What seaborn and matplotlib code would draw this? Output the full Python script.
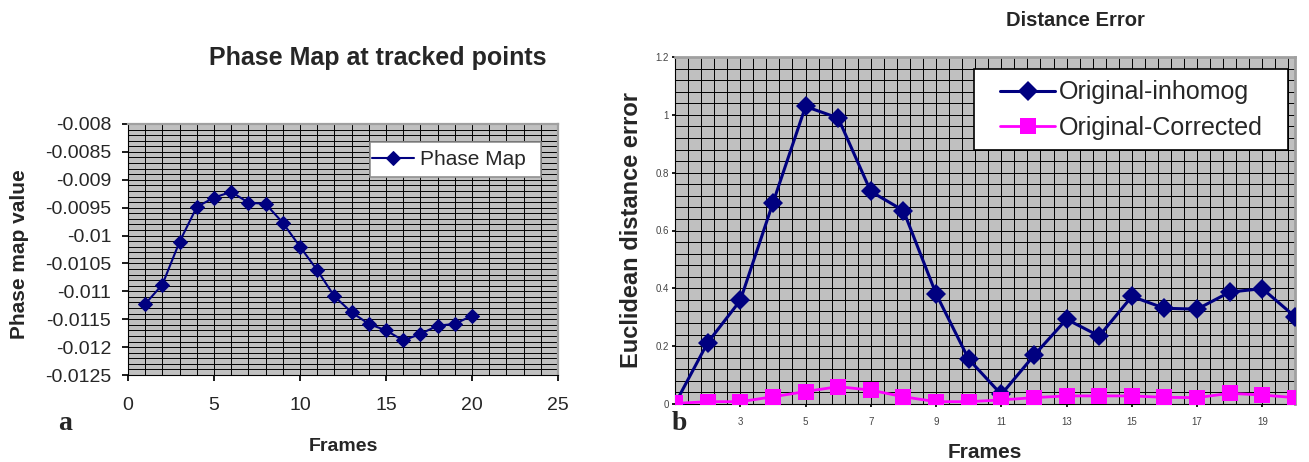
import numpy as np
import pandas as pd
import matplotlib
matplotlib.use("Agg")
import matplotlib.pyplot as plt
import seaborn as sns
from matplotlib.ticker import MultipleLocator, FixedLocator
from matplotlib.patches import Rectangle

# ---- data ----
frames = list(range(1, 21))
phase_map = [-0.011226, -0.010878, -0.01011, -0.009487, -0.009319, -0.009217,
             -0.009409, -0.009433, -0.00977, -0.0102, -0.01062, -0.01109,
             -0.011376, -0.011585, -0.0117, -0.01188, -0.011765, -0.011615,
             -0.011585, -0.011436]
orig_inhomog = [0.0, 0.212, 0.358, 0.695, 1.029, 0.989, 0.735, 0.669, 0.381,
                0.155, 0.033, 0.168, 0.293, 0.235, 0.372, 0.331, 0.328, 0.387,
                0.399, 0.302]
orig_corrected = [0.002, 0.008, 0.008, 0.025, 0.043, 0.060, 0.048, 0.025, 0.008,
                  0.008, 0.014, 0.022, 0.028, 0.028, 0.028, 0.023, 0.022, 0.037,
                  0.031, 0.022]
left_yticks = [-0.008, -0.0085, -0.009, -0.0095, -0.01, -0.0105, -0.011,
               -0.0115, -0.012, -0.0125]
left_xticks = [0, 5, 10, 15, 20, 25]
right_yticks = [0, 0.2, 0.4, 0.6, 0.8, 1, 1.2]
right_xtick_labels = [3, 5, 7, 9, 11, 13, 15, 17, 19]

sns.set_theme(style="white")
plt.rcParams['font.family'] = ['Liberation Sans', 'DejaVu Sans']

NAVY = "#000080"
PINK = "#FF00FF"
BG = "#C0C0C0"
W, H = 1309, 462

fig = plt.figure(figsize=(13.09, 4.62), dpi=100)
fig.patch.set_facecolor("white")


def fx(px):
    return px / W


def fy(py):
    return 1 - py / H


# ---------------- left chart ----------------
L0, L1, T0, B0 = 128, 558, 124, 375
axL = fig.add_axes([fx(L0), fy(B0), fx(L1 - L0), (B0 - T0) / H])
axL.set_facecolor(BG)
df_l = pd.DataFrame({"Frames": frames, "Phase Map": phase_map})
sns.lineplot(data=df_l, x="Frames", y="Phase Map", ax=axL, color=NAVY,
             marker="D", markersize=7, markeredgecolor=NAVY, linewidth=1.5,
             label="Phase Map", zorder=5)
axL.set_xlim(0, 25)
axL.set_ylim(-0.0125, -0.008)
axL.yaxis.set_major_locator(FixedLocator(left_yticks))
axL.set_yticklabels([f"{v:g}" for v in left_yticks])
axL.xaxis.set_major_locator(FixedLocator(left_xticks))
axL.set_xticklabels([str(v) for v in left_xticks])
axL.yaxis.set_minor_locator(MultipleLocator(0.0001))
axL.xaxis.set_minor_locator(MultipleLocator(1))
axL.grid(which="both", color="black", linewidth=0.7)
axL.set_axisbelow(True)
axL.tick_params(axis="both", which="major", labelsize=14, length=4,
                direction="out", color="black", left=True, bottom=True)
axL.tick_params(axis="x", which="major", pad=12)
axL.tick_params(axis="y", which="major", pad=8)
axL.tick_params(which="minor", length=0)
for s in ["top", "right"]:
    axL.spines[s].set_color("#A0A0A0")
    axL.spines[s].set_linewidth(1.6)
for s in ["left", "bottom"]:
    axL.spines[s].set_color("black")
    axL.spines[s].set_linewidth(0.8)
axL.set_xlabel("Frames", fontsize=14, fontweight="bold")
axL.xaxis.label.set_verticalalignment("center")
axL.xaxis.set_label_coords(0.5, (B0 - 446.5) / (B0 - T0))
axL.set_ylabel("Phase map value", fontsize=15, fontweight="bold")
axL.yaxis.label.set_verticalalignment("center")
axL.yaxis.set_label_coords((20 - L0) / (L1 - L0), 0.48)
fig.text(fx(378), fy(58), "Phase Map at tracked points", fontsize=18,
         fontweight="bold", ha="center", va="center")
# legend box
axL.add_patch(Rectangle(((370 - L0) / (L1 - L0), (B0 - 177) / (B0 - T0)),
                        (541 - 370) / (L1 - L0), 35 / (B0 - T0),
                        transform=axL.transAxes, facecolor="white",
                        edgecolor="#909090", linewidth=1.2, zorder=6))
legL = axL.legend(loc="center left",
                  bbox_to_anchor=((372 - L0) / (L1 - L0),
                                  (B0 - 159.5) / (B0 - T0)),
                  fontsize=15, frameon=False, handlelength=2.0,
                  borderpad=0.0, handletextpad=0.3, borderaxespad=0)
legL.set_zorder(7)
fig.text(fx(65), fy(424), "a", fontsize=20, fontweight="bold",
         ha="center", va="center",
         family=["Liberation Serif", "DejaVu Serif"])

# ---------------- right chart ----------------
R0, R1, RT, RB = 675, 1295, 57, 404
axR = fig.add_axes([fx(R0), fy(RB), fx(R1 - R0), (RB - RT) / H])
axR.set_facecolor(BG)
df_r = pd.DataFrame({
    "Frames": frames * 2,
    "value": orig_inhomog + orig_corrected,
    "series": ["Original-inhomog"] * 20 + ["Original-Corrected"] * 20,
})
sns.lineplot(data=df_r, x="Frames", y="value", hue="series", style="series",
             markers={"Original-inhomog": "D", "Original-Corrected": "s"},
             dashes=False, palette={"Original-inhomog": NAVY,
                                    "Original-Corrected": PINK},
             linewidth=2.2, ax=axR, zorder=5, markeredgewidth=0)
for ln in axR.get_lines():
    if ln.get_marker() == "D":
        ln.set_markersize(10)
    elif ln.get_marker() == "s":
        ln.set_markersize(11)
        ln.set_linewidth(2.0)
axR.set_xlim(1, 20)
axR.set_ylim(0, 1.2)
axR.yaxis.set_major_locator(FixedLocator(right_yticks))
axR.set_yticklabels([f"{v:g}" for v in right_yticks])
axR.xaxis.set_major_locator(FixedLocator(right_xtick_labels))
axR.set_xticklabels([str(v) for v in right_xtick_labels])
axR.yaxis.set_minor_locator(MultipleLocator(0.04))
axR.xaxis.set_minor_locator(FixedLocator([1 + 0.4 * k for k in range(48)]))
axR.grid(which="both", color="black", linewidth=0.7)
axR.set_axisbelow(True)
axR.tick_params(axis="both", which="major", labelsize=7, length=2.5,
                direction="out", color="black", left=True, bottom=True,
                labelcolor="#444444")
axR.tick_params(axis="x", which="major", pad=7)
axR.tick_params(axis="y", which="major", pad=2)
axR.tick_params(which="minor", length=0)
for s in ["top", "right"]:
    axR.spines[s].set_color("#A0A0A0")
    axR.spines[s].set_linewidth(2.0)
for s in ["left", "bottom"]:
    axR.spines[s].set_color("black")
    axR.spines[s].set_linewidth(0.8)
axR.set_xlabel("Frames", fontsize=15, fontweight="bold")
axR.xaxis.label.set_verticalalignment("center")
axR.xaxis.set_label_coords(0.5, (RB - 453) / (RB - RT))
axR.set_ylabel("Euclidean distance error", fontsize=17, fontweight="bold")
axR.yaxis.label.set_verticalalignment("center")
axR.yaxis.set_label_coords((631 - R0) / (R1 - R0), 0.5)
fig.text(fx(1075), fy(20), "Distance Error", fontsize=14.5, fontweight="bold",
         ha="center", va="center")
# legend box
axR.add_patch(Rectangle(((974 - R0) / (R1 - R0), (RB - 150) / (RB - RT)),
                        (1288 - 974) / (R1 - R0), 81 / (RB - RT),
                        transform=axR.transAxes, facecolor="white",
                        edgecolor="black", linewidth=1.2, zorder=6))
legR = axR.legend(loc="center left",
                  bbox_to_anchor=((1000 - R0) / (R1 - R0),
                                  (RB - 110) / (RB - RT)),
                  fontsize=18, frameon=False, handlelength=2.2,
                  borderpad=0.0, handletextpad=0.15, labelspacing=0.45,
                  borderaxespad=0)
legR.set_zorder(7)
fig.text(fx(679), fy(424), "b", fontsize=20, fontweight="bold",
         ha="center", va="center",
         family=["Liberation Serif", "DejaVu Serif"])

fig.savefig("out.png", dpi=100, facecolor="white")
